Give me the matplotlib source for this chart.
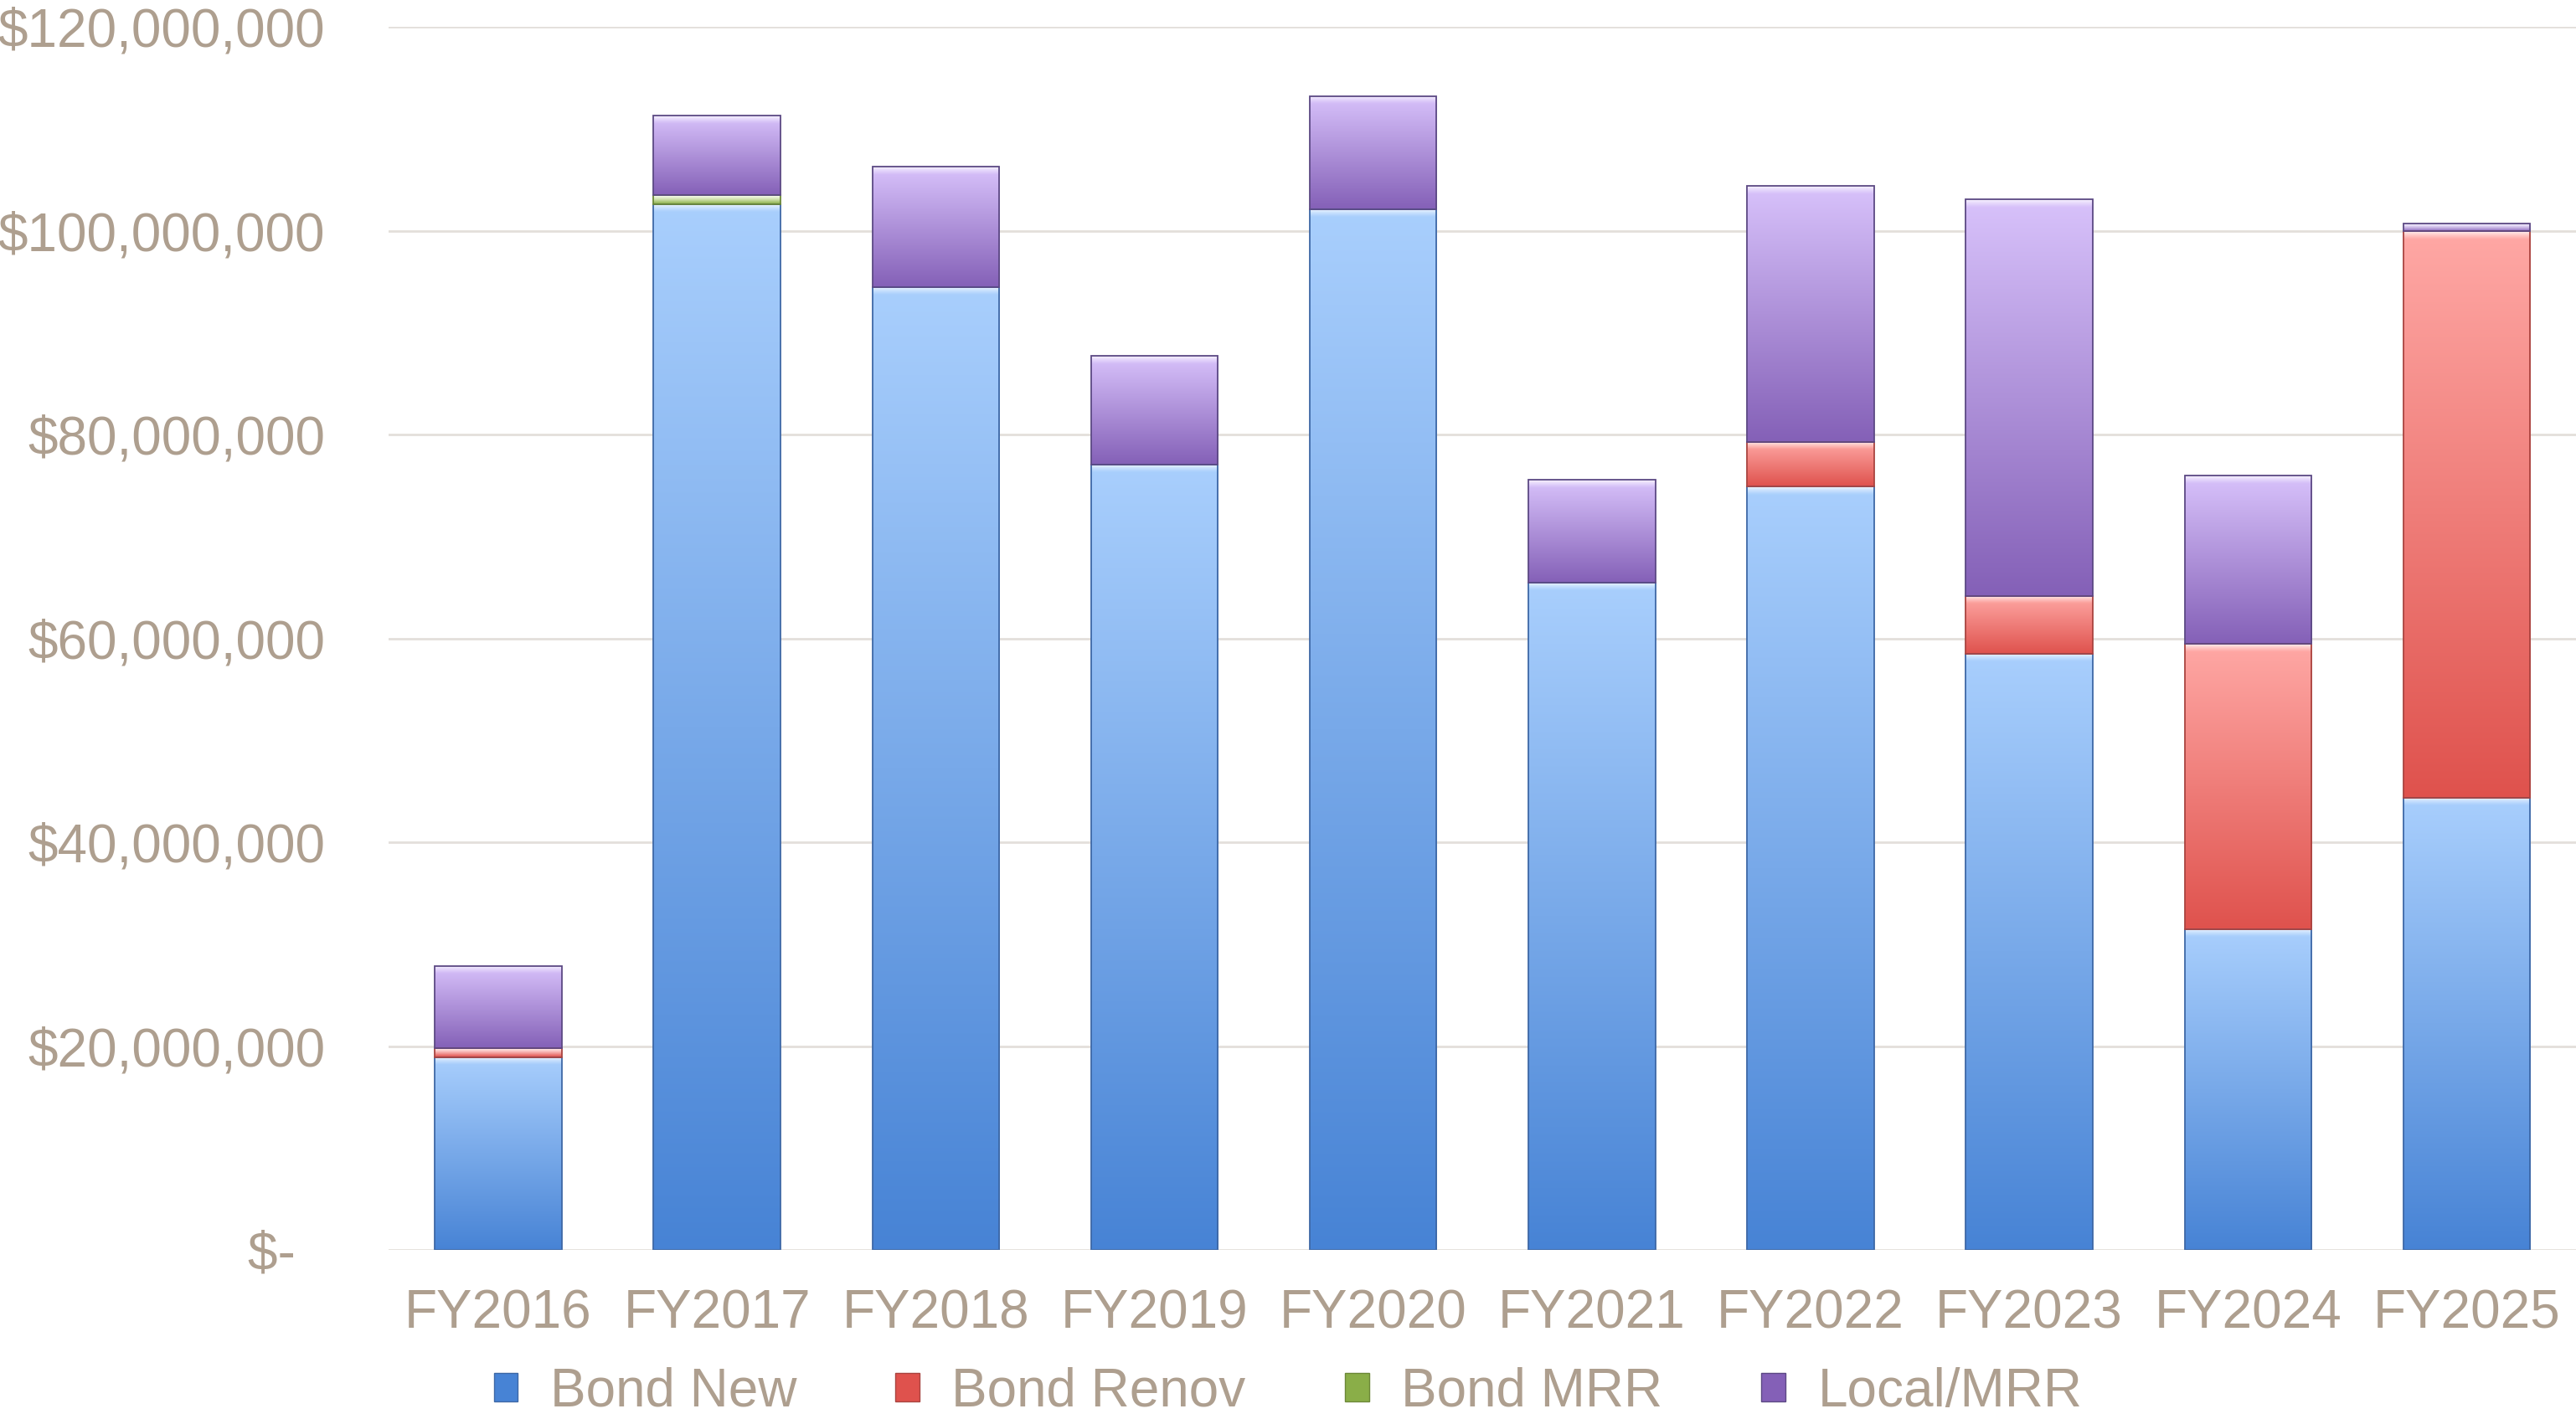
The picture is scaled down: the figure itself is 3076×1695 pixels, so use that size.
import numpy as np
import matplotlib
matplotlib.use("Agg")
import matplotlib.pyplot as plt
from matplotlib.patches import Patch
from matplotlib.ticker import FuncFormatter
from matplotlib.colors import to_rgb

plt.rcParams["font.family"] = ["Liberation Sans", "DejaVu Sans"]
TXT = "#ae9f8f"

years = ["FY2016", "FY2017", "FY2018", "FY2019", "FY2020",
         "FY2021", "FY2022", "FY2023", "FY2024", "FY2025"]
bond_new = [18.9, 102.6, 94.5, 77.1, 102.1, 65.5, 74.9, 58.5, 31.5, 44.4]
bond_renov = [0.9, 0, 0, 0, 0, 0, 4.4, 5.7, 28.0, 55.6]
bond_mrr = [0, 0.9, 0, 0, 0, 0, 0, 0, 0, 0]
local_mrr = [8.1, 7.8, 11.8, 10.6, 11.1, 10.1, 25.1, 38.9, 16.5, 0.7]
names = ["Bond New", "Bond Renov", "Bond MRR", "Local/MRR"]

# top colour, bottom colour, edge colour
styles = [("#a9cffd", "#4783d5", "#3e68a6"),
          ("#ffa8a5", "#df524d", "#a94440"),
          ("#dcefb6", "#8aae48", "#6c8838"),
          ("#d8c2fb", "#8460b7", "#5c4984")]

fig = plt.figure(figsize=(30.76, 16.95), dpi=100)
ax = fig.add_axes([0.151, 0.119, 0.849, 0.862])

def shade(patch, top, bot):
    x, y = patch.get_x(), patch.get_y()
    w, h = patch.get_width(), patch.get_height()
    if h <= 0:
        return
    n = 1000
    frac = np.linspace(1, 0, n)
    top, bot = np.array(to_rgb(top)), np.array(to_rgb(bot))
    cols = bot + (top - bot) * frac[:, None]
    # light bevel along the top of each segment
    d = (1 - frac) * h
    wmix = np.clip(1 - d / 0.8e6, 0, 1) ** 1.2 * 0.8
    cols = cols * (1 - wmix[:, None]) + wmix[:, None]
    img = np.repeat(cols[:, None, :], 2, axis=1)
    im = ax.imshow(img, extent=(x, x + w, y, y + h), aspect="auto",
                   origin="upper", zorder=2, interpolation="bilinear")
    im.set_clip_path(patch)

xs = np.arange(len(years))
bottom = np.zeros(len(years))
handles = []
for vals, name, (top, bot, edge) in zip([bond_new, bond_renov, bond_mrr, local_mrr], names, styles):
    v = np.array(vals) * 1e6
    bars = ax.bar(xs, v, 0.58, bottom=bottom, facecolor="none",
                  edgecolor=edge, linewidth=1.3, zorder=3)
    for p, val in zip(bars, v):
        if val > 0:
            shade(p, top, bot)
        else:
            p.set_visible(False)
    bottom += v
    handles.append(Patch(facecolor=bot, edgecolor=edge, label=name))

ax.set_xlim(-0.5, 9.5)
ax.set_ylim(0, 120e6)
ax.set_yticks(np.arange(0, 121e6, 20e6))
ax.yaxis.set_major_formatter(FuncFormatter(lambda v, p: "$-  " if v == 0 else f"${v:,.0f}"))
ax.set_xticks(xs)
ax.set_xticklabels(years)
ax.tick_params(axis="y", length=0, pad=55, labelsize=46, labelcolor=TXT)
ax.tick_params(axis="x", length=0, pad=33, labelsize=46, labelcolor=TXT)
ax.grid(axis="y", color="#e3dfdb", linewidth=2, zorder=0)
ax.set_axisbelow(True)
for s in ax.spines.values():
    s.set_visible(False)

leg = fig.legend(handles=handles, loc="center", bbox_to_anchor=(0.5, 0.019), ncol=4,
                 frameon=False, fontsize=46, handlelength=0.45, handleheight=0.45,
                 handletextpad=0.6, columnspacing=1.85, labelcolor=TXT)

fig.savefig("out.png", dpi=100, facecolor="white")
